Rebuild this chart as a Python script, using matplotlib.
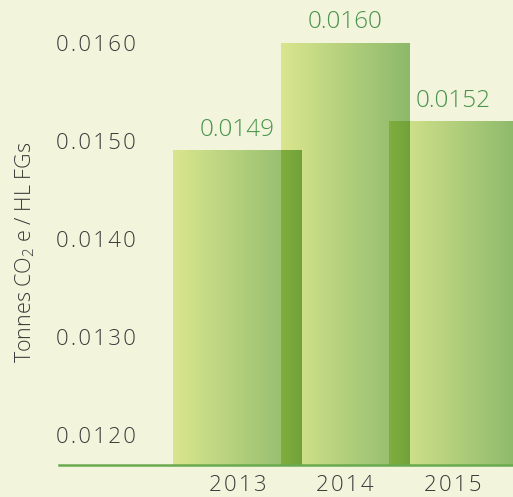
import numpy as np
import matplotlib
matplotlib.use("Agg")
import matplotlib.pyplot as plt
from matplotlib.colors import to_rgb

years = ["2013", "2014", "2015"]
values = [0.0149, 0.0160, 0.0152]
value_labels = ["0.0149", "0.0160", "0.0152"]
yticks = [0.0120, 0.0130, 0.0140, 0.0150, 0.0160]

bg = "#f2f5dc"
light = np.array(to_rgb("#dae68e"))
dark = np.array(to_rgb("#8cb96b"))
label_green = "#4a934c"
tick_grey = "#3a3a3a"

plt.rcParams["font.family"] = ["Open Sans", "DejaVu Sans"]
plt.rcParams["font.weight"] = "light"
plt.rcParams["mathtext.fontset"] = "custom"
plt.rcParams["mathtext.rm"] = "Open Sans:light"
plt.rcParams["mathtext.it"] = "Open Sans:light"

def spaced(s):
    return "\u200a".join(s)

fig = plt.figure(figsize=(5.13, 4.97), dpi=100, facecolor=bg)
ax = fig.add_axes([59 / 513, 32 / 497, 454 / 513, 465 / 497])
ax.set_facecolor(bg)

w = 1.188
ymin, ymax = 0.011699, 0.016439
n = 256
t = np.linspace(0, 1, n)

def grad(frac):
    return light[None, :] * (1 - frac[:, None]) + dark[None, :] * frac[:, None]

# bars with horizontal gradient
for i, v in enumerate(values):
    img = grad(t)[None, :, :]
    ax.imshow(img, extent=[i - w / 2, i + w / 2, ymin, v], aspect="auto",
              interpolation="bilinear", zorder=2)

# overlapping parts look multiplied
for i in range(len(values) - 1):
    ox0 = (i + 1) - w / 2
    ox1 = i + w / 2
    if ox1 <= ox0:
        continue
    top = min(values[i], values[i + 1])
    xs = np.linspace(ox0, ox1, 64)
    c1 = grad((xs - (i - w / 2)) / w)
    c2 = grad((xs - (i + 1 - w / 2)) / w)
    ax.imshow((c1 * c2)[None, :, :], extent=[ox0, ox1, ymin, top], aspect="auto",
              interpolation="bilinear", zorder=3)

for i, (v, lab) in enumerate(zip(values, value_labels)):
    ax.annotate(lab, (i, v), xytext=(0, 15), textcoords="offset points",
                ha="center", va="center", fontsize=17.5, color=label_green)

ax.set_xlim(-1.6566, 2.557)
ax.set_ylim(ymin, ymax)

ax.set_xticks(range(len(years)))
ax.set_xticklabels([spaced(y) for y in years], fontsize=16, color=tick_grey)
ax.set_yticks(yticks)
ax.set_yticklabels([spaced(f"{y:.4f}") for y in yticks], fontsize=16, color=tick_grey)
ax.tick_params(axis="x", length=0, pad=7)
ax.tick_params(axis="y", length=0, pad=-55)

for s in ["top", "right", "left"]:
    ax.spines[s].set_visible(False)
ax.spines["bottom"].set_color("#6aaa4f")
ax.spines["bottom"].set_linewidth(1.8)
ax.spines["bottom"].set_zorder(5)

fig.text(25 / 513, 1 - 252 / 497, "Tonnes CO$_2$ e / HL FGs", rotation=90,
         ha="center", va="center", fontsize=15.5, color=tick_grey)

fig.savefig("out.png", dpi=100, facecolor=bg)
